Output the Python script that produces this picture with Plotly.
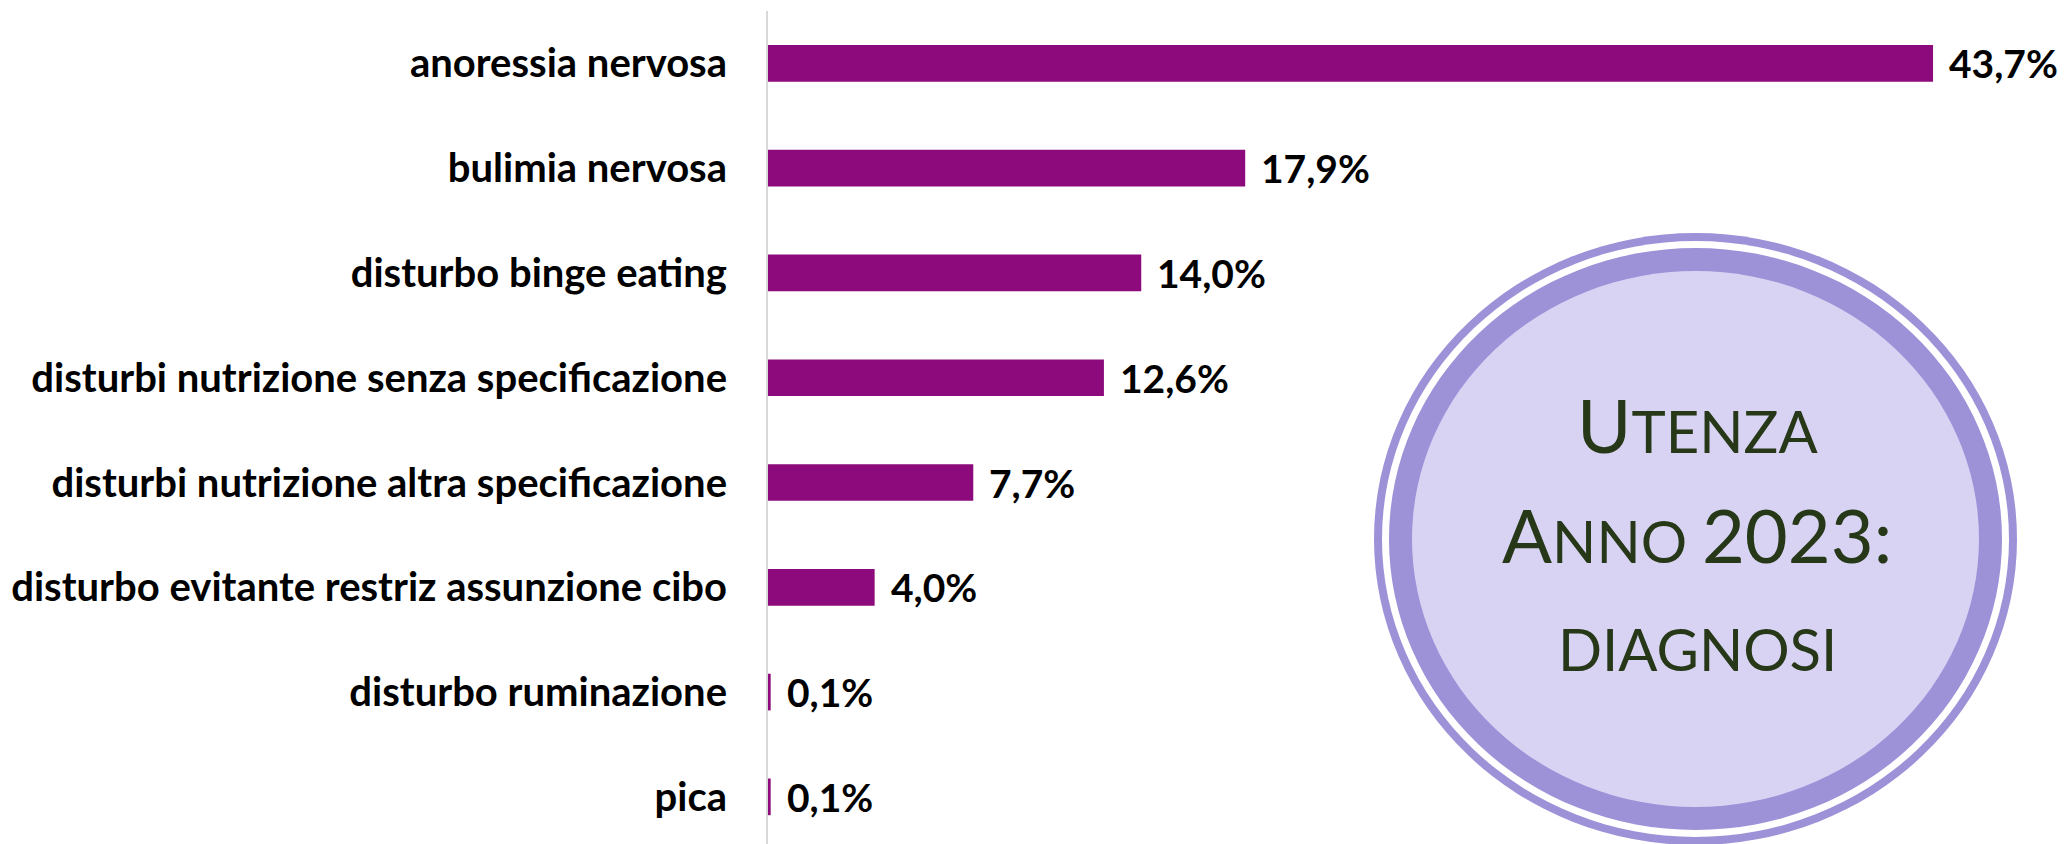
import plotly.graph_objects as go

# Diagnosi dell'utenza 2023 (percentuali)
categorie = [
    "anoressia nervosa",
    "bulimia nervosa",
    "disturbo binge eating",
    "disturbi nutrizione senza specificazione",
    "disturbi nutrizione altra specificazione",
    "disturbo evitante restriz assunzione cibo",
    "disturbo ruminazione",
    "pica",
]
percentuali = [43.7, 17.9, 14.0, 12.6, 7.7, 4.0, 0.1, 0.1]
etichette = [f"{v:.1f}".replace(".", ",") + "%" for v in percentuali]

W, H = 2065, 844
ML, MT = 768, 11
PW, PH = W - ML, H - MT

VIOLA_BARRE = "#8c0a7c"
ANELLO = "#9d91d8"
RIEMPIMENTO = "#d9d3f3"
TESTO_CERCHIO = "#263818"
FONT = "Lato"


def paper_x(px):
    return (px - ML) / PW


def paper_y(py):
    return (H - py) / PH


posizioni = list(range(len(categorie)))

fig = go.Figure(
    go.Bar(
        x=percentuali,
        y=posizioni,
        orientation="h",
        width=0.35,
        marker=dict(color=VIOLA_BARRE, line=dict(width=0)),
        hoverinfo="skip",
    )
)

# etichette con il valore a destra di ogni barra
for v, p, t in zip(percentuali, posizioni, etichette):
    fig.add_annotation(
        x=v, y=p, text=t, showarrow=False, xanchor="left", yanchor="middle",
        xshift=14, font=dict(family=FONT, size=39, color="black", weight="bold"),
    )

# medaglione con il titolo: anello sottile, spazio bianco, anello spesso, interno chiaro
L, R, T, B = 1374, 2017, 233, 845
for inset, colore in [(0, ANELLO), (8, "white"), (15, ANELLO), (38, RIEMPIMENTO)]:
    fig.add_shape(
        type="circle", xref="paper", yref="paper",
        x0=paper_x(L + inset), x1=paper_x(R - inset),
        y0=paper_y(B - inset), y1=paper_y(T + inset),
        fillcolor=colore, line=dict(width=0), layer="above",
    )

CX = 1697
BIG, SMALL = 74, 58
righe = [
    (f"<span style='font-size:{BIG}px'>U</span>TENZA", 471),
    (f"<span style='font-size:{BIG}px'>A</span>NNO <span style='font-size:{BIG}px'>2023:</span>", 581),
    ("DIAGNOSI", 685),
]
for testo, fondo in righe:
    fig.add_annotation(
        x=paper_x(CX), y=paper_y(fondo), xref="paper", yref="paper",
        text=testo, showarrow=False, xanchor="center", yanchor="bottom",
        font=dict(family=FONT, size=SMALL, color=TESTO_CERCHIO),
    )

fig.update_layout(
    width=W, height=H,
    margin=dict(l=ML, r=0, t=MT, b=0, pad=0),
    paper_bgcolor="white", plot_bgcolor="white",
    showlegend=False,
    xaxis=dict(range=[0, PW / 26.66], visible=False, fixedrange=True),
    yaxis=dict(
        range=[7.45, -0.5],
        tickvals=posizioni, ticktext=categorie,
        tickfont=dict(family=FONT, size=40, color="black", weight="bold"),
        showline=True, linecolor="#d9d9d9", linewidth=2,
        showgrid=False, zeroline=False, ticks="",
        ticklabelstandoff=31, fixedrange=True,
    ),
)

fig.write_html("out.html")
